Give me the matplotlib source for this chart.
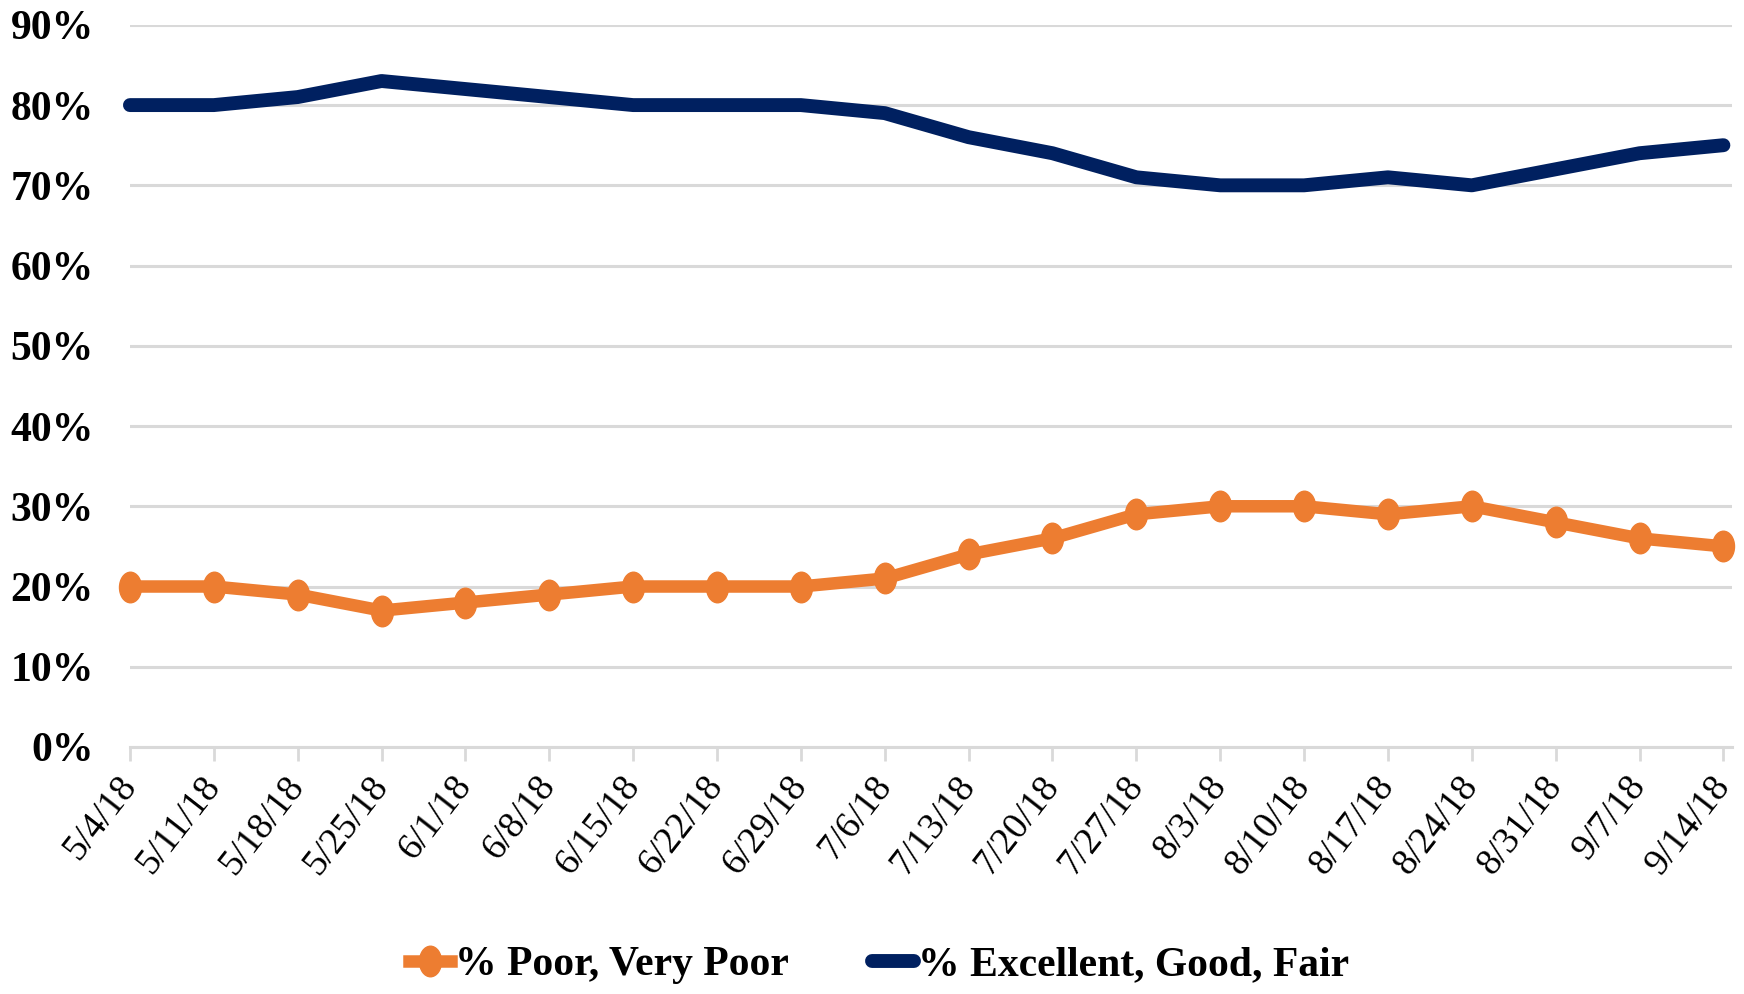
import matplotlib
matplotlib.use("Agg")
import matplotlib.pyplot as plt
from matplotlib.path import Path
from matplotlib.ticker import PercentFormatter

dates = ["5/4/18", "5/11/18", "5/18/18", "5/25/18", "6/1/18", "6/8/18", "6/15/18",
         "6/22/18", "6/29/18", "7/6/18", "7/13/18", "7/20/18", "7/27/18", "8/3/18",
         "8/10/18", "8/17/18", "8/24/18", "8/31/18", "9/7/18", "9/14/18"]
poor = [20, 20, 19, 17, 18, 19, 20, 20, 20, 21, 24, 26, 29, 30, 30, 29, 30, 28, 26, 25]
good = [80, 80, 81, 83, 82, 81, 80, 80, 80, 79, 76, 74, 71, 70, 70, 71, 70, 72, 74, 75]

plt.rcParams['font.family'] = ['Liberation Serif', 'DejaVu Serif']

# slightly tall oval marker, like the stretched dots in the original
circ = Path.unit_circle()
oval = Path(circ.vertices * [0.72, 1.0], circ.codes)

fig = plt.figure(figsize=(17.44, 9.94), dpi=100)
ax = fig.add_axes([0.0745, 0.2485, 0.9185, 0.7265])

x = list(range(len(dates)))
ax.plot(x, poor, color="#ED7D31", lw=9, marker=oval, markersize=22,
        label="% Poor, Very Poor", clip_on=False, zorder=3)
ax.plot(x, good, color="#002060", lw=10, solid_capstyle="round",
        label="% Excellent, Good, Fair", clip_on=False, zorder=3)

ax.set_ylim(0, 90)
ax.set_xlim(0, 19.1)
ax.set_yticks(range(0, 91, 10))
ax.yaxis.set_major_formatter(PercentFormatter(decimals=0))
ax.grid(axis="y", color="#D9D9D9", lw=2.2)
ax.set_axisbelow(True)

for s in ["top", "right", "left"]:
    ax.spines[s].set_visible(False)
ax.spines["bottom"].set_color("#D9D9D9")
ax.spines["bottom"].set_linewidth(2.2)

ax.set_xticks(x)
ax.set_xticklabels(dates, rotation=52, ha="right", va="center",
                   rotation_mode="anchor", fontsize=27)
ax.tick_params(axis="x", length=10, width=2, color="#D9D9D9", pad=14)
ax.tick_params(axis="y", length=0, pad=26, labelsize=30)
for lbl in ax.get_yticklabels():
    lbl.set_fontweight("bold")

fig.legend(loc="center", bbox_to_anchor=(0.504, 0.029), ncol=2, frameon=False,
           handlelength=1.0, columnspacing=2.0, handletextpad=0.1,
           prop={"size": 30, "weight": "bold"})

fig.savefig("out.png", dpi=100)
